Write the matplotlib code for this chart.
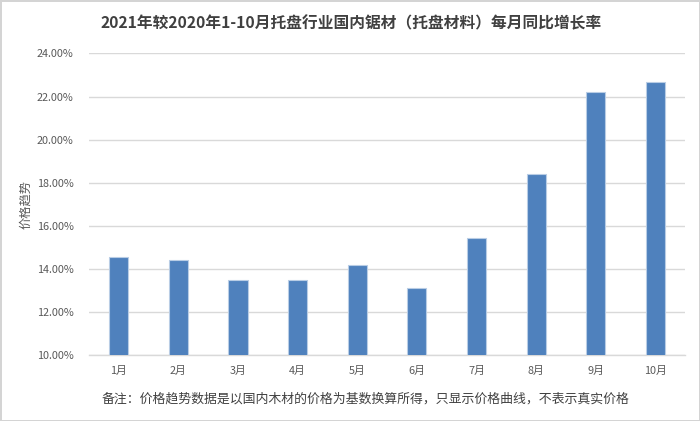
import matplotlib
matplotlib.use("Agg")
import matplotlib.pyplot as plt
from matplotlib.ticker import FuncFormatter

plt.rcParams['font.family'] = ['Noto Sans CJK SC', 'DejaVu Sans']

months = ["1月", "2月", "3月", "4月", "5月", "6月", "7月", "8月", "9月", "10月"]
growth = [14.53, 14.41, 13.47, 13.47, 14.18, 13.09, 15.44, 18.38, 22.22, 22.67]
yticks = [10, 12, 14, 16, 18, 20, 22, 24]

title = "2021年较2020年1-10月托盘行业国内锯材（托盘材料）每月同比增长率"
ylabel = "价格趋势"
note = "备注：价格趋势数据是以国内木材的价格为基数换算所得，只显示价格曲线，不表示真实价格"

fig = plt.figure(figsize=(7, 4.21), dpi=100)
fig.patch.set_facecolor('white')
fig.patch.set_edgecolor('#d4d4d4')
fig.patch.set_linewidth(2)

ax = fig.add_axes([0.127, 0.157, 0.852, 0.716])
x = list(range(len(months)))
ax.bar(x, growth, width=0.32, bottom=0, color='#4f81bd', edgecolor='#b9cde5', linewidth=0.8, zorder=3)
ax.set_ylim(10, 24)
ax.set_xlim(-0.5, len(months) - 0.5)
ax.set_yticks(yticks)
ax.yaxis.set_major_formatter(FuncFormatter(lambda v, p: f"{v:.2f}%"))
ax.set_xticks(x)
ax.set_xticklabels(months)
ax.grid(axis='y', color='#d9d9d9', linewidth=1, zorder=0)
for s in ['top', 'right', 'left']:
    ax.spines[s].set_visible(False)
ax.spines['bottom'].set_color('#d9d9d9')
ax.spines['bottom'].set_linewidth(1)
ax.tick_params(axis='both', length=0, labelsize=7.8, colors='#595959')
ax.tick_params(axis='x', pad=8)
ax.tick_params(axis='y', pad=11)
ax.set_ylabel(ylabel, fontsize=8.8, color='#595959', labelpad=3)

fig.text(0.502, 0.945, title, ha='center', va='center', fontsize=11.3, fontweight='bold', color='#404040')
fig.text(0.522, 0.052, note, ha='center', va='center', fontsize=9.3, color='#404040')

fig.savefig("out.png", dpi=100, facecolor=fig.get_facecolor(), edgecolor=fig.get_edgecolor())
